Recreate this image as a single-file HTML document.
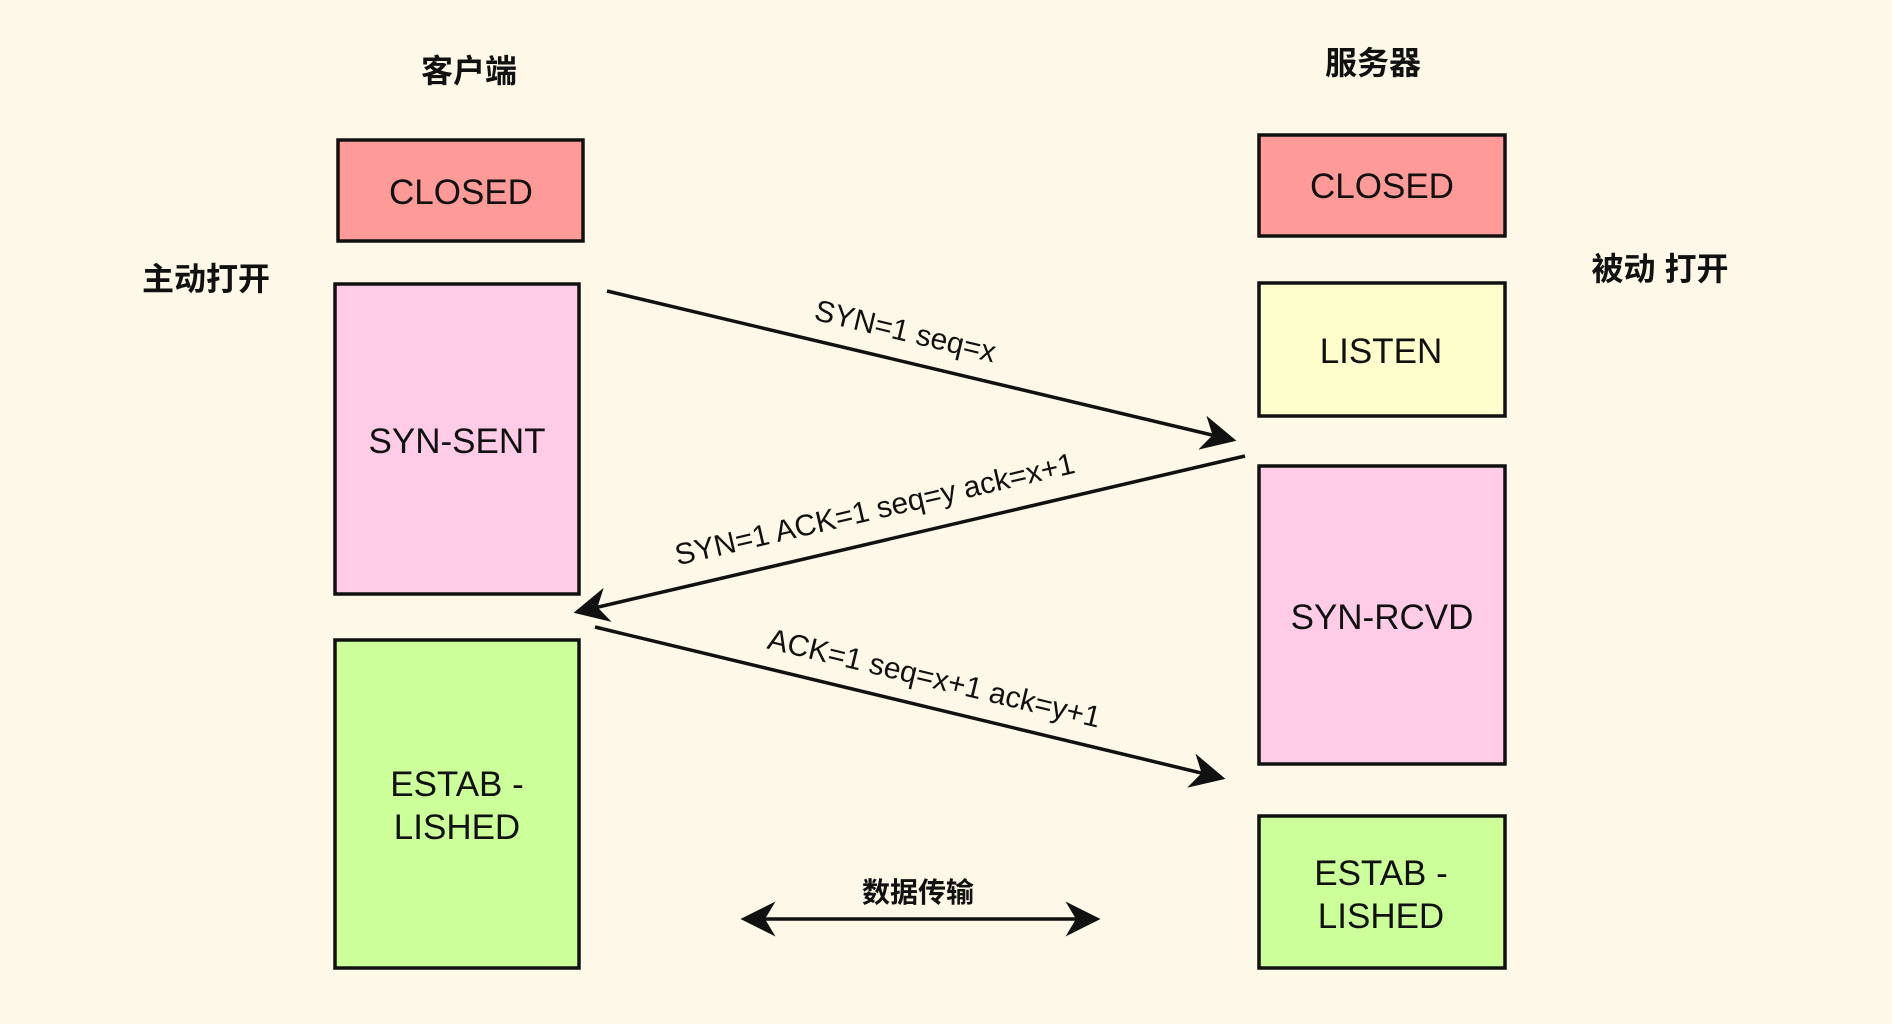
<!DOCTYPE html>
<html><head><meta charset="utf-8"><style>
html,body{margin:0;padding:0;background:#fdf8e7;}
svg{display:block;}
text{font-family:"Liberation Sans","Noto Sans CJK SC",sans-serif;fill:#111;}
</style></head><body>
<svg width="1892" height="1024" viewBox="0 0 1892 1024" xmlns="http://www.w3.org/2000/svg">
<rect width="1892" height="1024" fill="#fdf8e7"/>
<defs>
<marker id="ah" markerWidth="10" markerHeight="10" refX="9" refY="5" orient="auto" markerUnits="strokeWidth">
<path d="M0,0 L10,5 L0,10 L3,5 Z" fill="#111"/>
</marker>
<marker id="ahs" markerWidth="10" markerHeight="10" refX="1" refY="5" orient="auto" markerUnits="strokeWidth">
<path d="M10,0 L0,5 L10,10 L7,5 Z" fill="#111"/>
</marker>
</defs>
<g stroke="#111" stroke-width="3.5">
<rect x="338" y="140" width="245" height="101" fill="#fe9a98"/>
<rect x="335" y="284" width="244" height="310" fill="#ffcce8"/>
<rect x="335" y="640" width="244" height="328" fill="#ccff99"/>
<rect x="1259" y="135" width="246" height="101" fill="#fe9a98"/>
<rect x="1259" y="283" width="246" height="133" fill="#fdfecc"/>
<rect x="1259" y="466" width="246" height="298" fill="#ffcce8"/>
<rect x="1259" y="816" width="246" height="152" fill="#ccff99"/>
</g>
<g font-size="35" text-anchor="middle">
<text x="461" y="204">CLOSED</text>
<text x="457" y="453">SYN-SENT</text>
<text x="457" y="796">ESTAB -</text>
<text x="457" y="839">LISHED</text>
<text x="1382" y="198">CLOSED</text>
<text x="1381" y="363">LISTEN</text>
<text x="1382" y="629">SYN-RCVD</text>
<text x="1381" y="885">ESTAB -</text>
<text x="1381" y="928">LISHED</text>
</g>
<g font-size="32" font-weight="bold" text-anchor="middle">
<text x="469" y="82">客户端</text>
<text x="1373" y="74">服务器</text>
<text x="206" y="290">主动打开</text>
<text x="1660" y="280">被动 打开</text>
</g>
<text x="918" y="902" font-size="28" font-weight="bold" text-anchor="middle">数据传输</text>
<g stroke="#111" stroke-width="3.5" fill="none">
<line x1="607" y1="291" x2="1233" y2="440" marker-end="url(#ah)"/>
<line x1="1245" y1="456" x2="577" y2="612" marker-end="url(#ah)"/>
<line x1="595" y1="627" x2="1222" y2="778" marker-end="url(#ah)"/>
<line x1="744" y1="919" x2="1097" y2="919" marker-end="url(#ah)" marker-start="url(#ahs)"/>
</g>
<g font-size="30" text-anchor="middle">
<text transform="translate(903,341) rotate(13.4)">SYN=1  seq=x</text>
<text transform="translate(877,519) rotate(-13.1)">SYN=1 ACK=1 seq=y ack=x+1</text>
<text transform="translate(932,688) rotate(13.5)">ACK=1 seq=x+1 ack=y+1</text>
</g>
</svg>
</body></html>
